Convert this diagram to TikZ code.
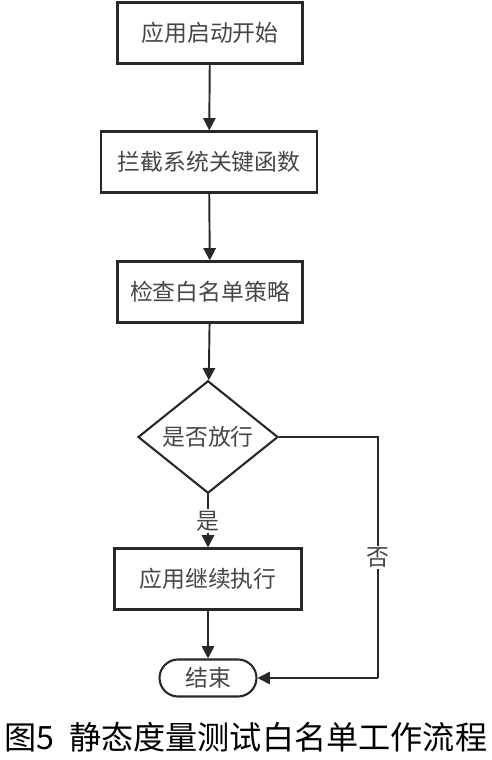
\documentclass[tikz,border=0pt]{standalone}
\usepackage{fontspec}
\setmainfont{Noto Sans CJK SC}
\usepackage{tikz}
\usetikzlibrary{arrows.meta,positioning,shapes.geometric}
\definecolor{flowline}{RGB}{40,40,40}
\definecolor{flowtext}{RGB}{70,70,70}
\tikzset{
  stepbox/.style={draw=flowline, line width=1.2pt, fill=white, font=\fontsize{13}{15}\selectfont,
                  text=flowtext, minimum width=#1, minimum height=1.22cm, inner sep=0pt},
  decide/.style={draw=flowline, line width=1.2pt, diamond, fill=white, font=\fontsize{13}{15}\selectfont,
                 text=flowtext, minimum width=2.8cm, minimum height=1.86cm, inner sep=0pt},
  terminal/.style={draw=flowline, line width=1.2pt, rounded corners=0.37cm, fill=white,
                   font=\fontsize{13}{15}\selectfont, text=flowtext,
                   minimum width=1.94cm, minimum height=0.74cm, inner sep=0pt},
  flow/.style={-{Triangle[length=7pt,width=7pt]}, line width=1.1pt, flowline},
  tag/.style={fill=white, font=\fontsize{13}{15}\selectfont, text=flowtext, inner sep=1pt},
}
\begin{document}
\begin{tikzpicture}[x=0.02cm, y=-0.02cm]
\useasboundingbox (0,0) rectangle (492,760);

% Main steps
\node[stepbox=3.7cm] (start) at (210,33) {应用启动开始};
\node[stepbox=4.32cm] (hook) at (209,162) {拦截系统关键函数};
\node[stepbox=3.7cm] (check) at (210,292) {检查白名单策略};
\node[decide] (allow) at (208,437) {是否放行};
\node[stepbox=3.74cm] (cont) at (208,579) {应用继续执行};
\node[terminal] (stop) at (208,678) {结束};

% Arrows
\draw[flow] (start) -- (hook);
\draw[flow] (hook) -- (check);
\draw[flow] (check) -- (allow);
\draw[flow] (allow) -- node[tag] {是} (cont);
\draw[flow] (cont) -- (stop);

% No branch
\coordinate (corner1) at (378,437);
\coordinate (corner2) at (378,678);
\draw[line width=1.1pt, flowline] (allow.east) -- (corner1) -- node[tag] {否} (corner2);
\draw[flow] (corner2) -- (stop.east);

% Caption
\node[font=\fontsize{18.3}{21}\selectfont, text=black, inner sep=0pt] (caption) at (246,737) {图5\hspace{0.45em}静态度量测试白名单工作流程};

\end{tikzpicture}
\end{document}
